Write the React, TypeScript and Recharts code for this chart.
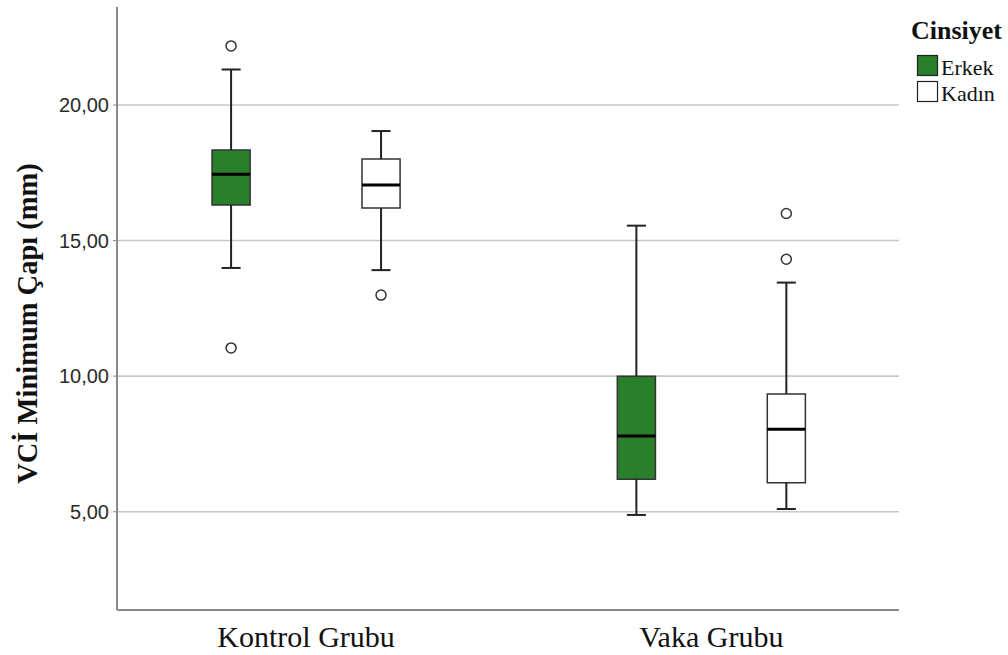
import React from "react";
import {
  ScatterChart,
  Scatter,
  XAxis,
  YAxis,
  CartesianGrid,
  ReferenceArea,
  ReferenceLine,
} from "recharts";

const categories = ["Kontrol Grubu", "Vaka Grubu"];
const yTicks = [5, 10, 15, 20];

// Erkek box summaries (per category)
const erkekMin = [13.99, 4.88];
const erkekQ1 = [16.31, 6.2];
const erkekMedian = [17.45, 7.79];
const erkekQ3 = [18.34, 10.0];
const erkekMax = [21.31, 15.55];
const erkekOutliers = [[22.18, 11.04], []];

// Kadın box summaries (per category)
const kadinMin = [13.91, 5.1];
const kadinQ1 = [16.2, 6.07];
const kadinMedian = [17.05, 8.04];
const kadinQ3 = [18.01, 9.34];
const kadinMax = [19.04, 13.45];
const kadinOutliers = [[12.99], [16.0, 14.31]];

const GREEN = "#2a7f2a";
const SERIF = "'Liberation Serif', 'Times New Roman', serif";
const SANS = "'Liberation Sans', Arial, sans-serif";

const series = [
  { name: "Erkek", offset: -0.185, fill: GREEN, min: erkekMin, q1: erkekQ1, med: erkekMedian, q3: erkekQ3, max: erkekMax, out: erkekOutliers },
  { name: "Kadın", offset: 0.185, fill: "#ffffff", min: kadinMin, q1: kadinQ1, med: kadinMedian, q3: kadinQ3, max: kadinMax, out: kadinOutliers },
];

const BOX_HALF = 0.047;
const CAP_HALF = 0.0235;

const outlierPoints = series.flatMap((s) =>
  categories.flatMap((_, i) => s.out[i].map((v) => ({ x: i + 1 + s.offset, y: v })))
);

const XTick = (props: any) => {
  const { x, y, payload } = props;
  return (
    <text x={x} y={y + 35} textAnchor="middle" fontFamily={SERIF} fontSize={30} fill="#111">
      {categories[payload.value - 1]}
    </text>
  );
};

const YTitle = (props: any) => {
  const vb = props.viewBox;
  const cx = vb.x + 27;
  const cy = vb.y + vb.height / 2 + 15;
  return (
    <text
      x={cx}
      y={cy}
      transform={`rotate(-90 ${cx} ${cy})`}
      textAnchor="middle"
      dominantBaseline="central"
      fontFamily={SERIF}
      fontWeight="bold"
      fontSize={28.5}
      fill="#111"
    >
      VCİ Minimum Çapı (mm)
    </text>
  );
};

const LegendBox = () => (
  <svg width={1008} height={120} style={{ position: "absolute", left: 0, top: 0, pointerEvents: "none" }}>
    <text x={911} y={39} fontFamily={SERIF} fontWeight="bold" fontSize={26} fill="#111">
      Cinsiyet
    </text>
    {series.map((s, i) => (
      <g key={s.name}>
        <rect x={917.5} y={55.5 + i * 26} width={20} height={20} fill={s.fill} stroke="#222" strokeWidth={1.2} />
        <text x={941} y={75 + i * 26} fontFamily={SERIF} fontSize={22} fill="#111">
          {s.name}
        </text>
      </g>
    ))}
  </svg>
);

export default function App() {
  return (
    <div style={{ position: "absolute", left: 0, top: 0, width: 1008, height: 655, background: "#fff" }}>
      <ScatterChart width={1008} height={655} margin={{ top: 7, right: 109, bottom: 0, left: 0 }}>
        <CartesianGrid vertical={false} horizontalValues={yTicks} stroke="#c8c8c8" strokeWidth={1.6} />
        <XAxis
          type="number"
          dataKey="x"
          domain={[0.5335, 2.463]}
          ticks={[1, 2]}
          tick={<XTick />}
          tickLine={false}
          tickSize={0}
          height={45}
          axisLine={{ stroke: "#8a8a8a", strokeWidth: 2 }}
          allowDataOverflow
        />
        <YAxis
          type="number"
          dataKey="y"
          domain={[1.374, 23.615]}
          ticks={yTicks}
          width={117}
          tickSize={4}
          tickMargin={4}
          tickFormatter={(v: number) => v.toFixed(2).replace(".", ",")}
          tick={{ fontFamily: SANS, fontSize: 20, fill: "#2a2a2a" }}
          tickLine={{ stroke: "#8a8a8a" }}
          axisLine={{ stroke: "#8a8a8a", strokeWidth: 2 }}
          allowDataOverflow
          label={<YTitle />}
        />
        {series.map((s) =>
          categories.map((_, i) => {
            const cx = i + 1 + s.offset;
            return (
              <React.Fragment key={`${s.name}-${i}`}>
                <ReferenceLine segment={[{ x: cx, y: s.min[i] }, { x: cx, y: s.q1[i] }]} stroke="#222" strokeWidth={2} ifOverflow="visible" />
                <ReferenceLine segment={[{ x: cx, y: s.q3[i] }, { x: cx, y: s.max[i] }]} stroke="#222" strokeWidth={2} ifOverflow="visible" />
                <ReferenceLine segment={[{ x: cx - CAP_HALF, y: s.min[i] }, { x: cx + CAP_HALF, y: s.min[i] }]} stroke="#222" strokeWidth={2} ifOverflow="visible" />
                <ReferenceLine segment={[{ x: cx - CAP_HALF, y: s.max[i] }, { x: cx + CAP_HALF, y: s.max[i] }]} stroke="#222" strokeWidth={2} ifOverflow="visible" />
                <ReferenceArea
                  x1={cx - BOX_HALF}
                  x2={cx + BOX_HALF}
                  y1={s.q1[i]}
                  y2={s.q3[i]}
                  fill={s.fill}
                  fillOpacity={1}
                  stroke="#333"
                  strokeWidth={1.5}
                  ifOverflow="visible"
                />
                <ReferenceLine segment={[{ x: cx - BOX_HALF, y: s.med[i] }, { x: cx + BOX_HALF, y: s.med[i] }]} stroke="#000" strokeWidth={3} ifOverflow="visible" />
              </React.Fragment>
            );
          })
        )}
        <Scatter
          data={outlierPoints}
          isAnimationActive={false}
          shape={(p: any) => <circle cx={p.cx} cy={p.cy} r={5} fill="#fff" stroke="#333" strokeWidth={1.5} />}
        />
      </ScatterChart>
      <LegendBox />
    </div>
  );
}
